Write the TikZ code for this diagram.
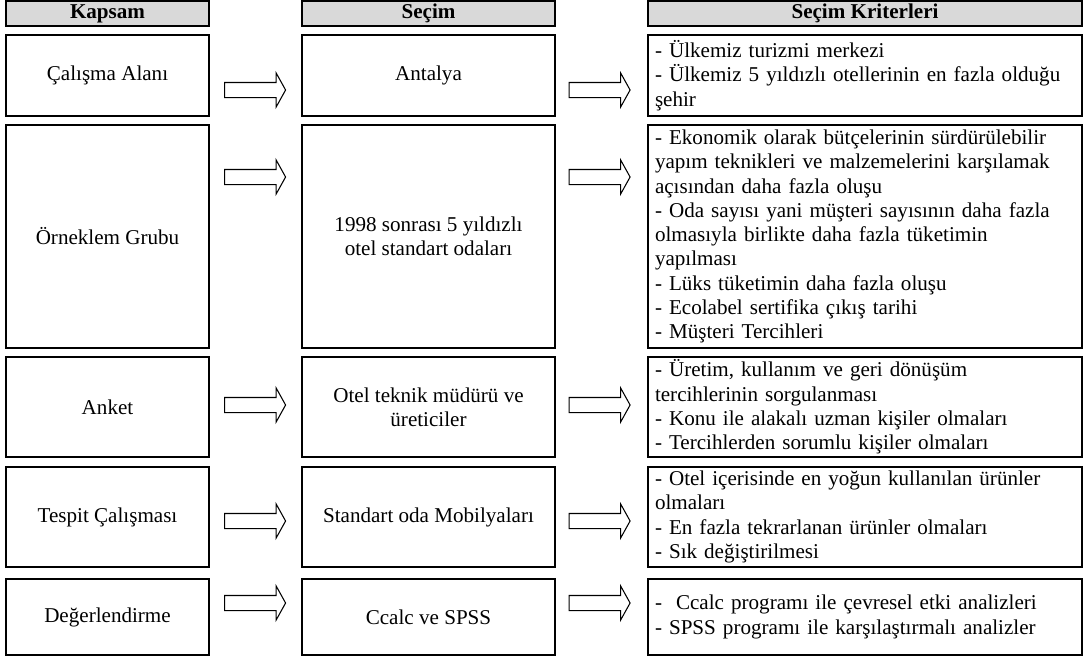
\documentclass[tikz,border=0pt]{standalone}
\usepackage{fontspec}
\setmainfont{Liberation Serif}
\usepackage{xcolor}
\definecolor{lineDark}{HTML}{000000}
\definecolor{headColor}{HTML}{D9D9D9}
\usepackage{tikz}
\usetikzlibrary{positioning,calc,shapes.arrows}
\tikzset{
  headBox/.style={
    rectangle,
    draw=lineDark,
    line width=1.1pt,
    fill=headColor,
    minimum height=0.5cm,
    inner sep=0pt,
    outer sep=0pt,
    font=\fontsize{12}{13.8}\selectfont\bfseries
 },
  scopeBox/.style={
    rectangle,
    draw=lineDark,
    line width=1.1pt,
    minimum width=4.06cm,
    inner sep=2pt,
    outer sep=0pt,
    align=center,
    font=\fontsize{12}{13.8}\selectfont
 },
  choiceBox/.style={
    rectangle,
    draw=lineDark,
    line width=1.1pt,
    minimum width=5.06cm,
    inner sep=2pt,
    outer sep=0pt,
    align=center,
    font=\fontsize{12}{13.8}\selectfont
 },
  critBox/.style={
    rectangle,
    draw=lineDark,
    line width=1.1pt,
    text width=8.4cm,
    inner xsep=0.14cm,
    inner ysep=1pt,
    outer sep=0pt,
    align=left,
    font=\fontsize{12}{13.8}\selectfont
 },
  blockArrow/.style={
    single arrow,
    draw=lineDark,
    line width=0.6pt,
    inner xsep=0pt,
    inner ysep=0.14cm,
    single arrow head extend=0.19cm,
    single arrow tip angle=122,
    minimum height=1.22cm
 }
}
\begin{document}
\begin{tikzpicture}
            \useasboundingbox (0,0) rectangle (21.78,-13.24);

            % column heads
            \node[headBox, minimum width=4.06cm] (hK) at (2.15,-0.27) {Kapsam};
            \node[headBox, minimum width=5.06cm, right=1.86cm of hK] (hS) {Seçim};
            \node[headBox, minimum width=8.68cm, right=1.86cm of hS] (hC) {Seçim Kriterleri};

            % Kapsam column
            \node[scopeBox, minimum height=1.62cm, below=0.18cm of hK] (k1) {Çalışma Alanı};
            \node[scopeBox, minimum height=4.46cm, below=0.18cm of k1] (k2) {Örneklem Grubu};
            \node[scopeBox, minimum height=2cm, below=0.18cm of k2] (k3) {Anket};
            \node[scopeBox, minimum height=2cm, below=0.2cm of k3] (k4) {Tespit Çalışması};
            \node[scopeBox, minimum height=1.52cm, below=0.24cm of k4] (k5) {Değerlendirme};

            % Seçim column
            \node[choiceBox, minimum height=1.62cm, right=1.86cm of k1] (s1) {Antalya};
            \node[choiceBox, minimum height=4.46cm, right=1.86cm of k2] (s2) {1998 sonrası 5 yıldızlı\\otel standart odaları};
            \node[choiceBox, minimum height=2cm, right=1.86cm of k3] (s3) {Otel teknik müdürü ve\\üreticiler};
            \node[choiceBox, minimum height=2cm, right=1.86cm of k4] (s4) {Standart oda Mobilyaları};
            \node[choiceBox, minimum height=1.52cm, right=1.86cm of k5] (s5) {Ccalc ve SPSS};

            % Seçim Kriterleri column
            \node[critBox, minimum height=1.62cm, right=1.86cm of s1] (c1) {- Ülkemiz turizmi merkezi\\- Ülkemiz 5 yıldızlı otellerinin en fazla olduğu\\şehir};
            \node[critBox, minimum height=4.46cm, right=1.86cm of s2] (c2) {- Ekonomik olarak bütçelerinin sürdürülebilir\\yapım teknikleri ve malzemelerini karşılamak\\açısından daha fazla oluşu\\- Oda sayısı yani müşteri sayısının daha fazla\\olmasıyla birlikte daha fazla tüketimin\\yapılması\\- Lüks tüketimin daha fazla oluşu\\- Ecolabel sertifika çıkış tarihi\\- Müşteri Tercihleri};
            \node[critBox, minimum height=2cm, right=1.86cm of s3] (c3) {- Üretim, kullanım ve geri dönüşüm\\tercihlerinin sorgulanması\\- Konu ile alakalı uzman kişiler olmaları\\- Tercihlerden sorumlu kişiler olmaları};
            \node[critBox, minimum height=2cm, right=1.86cm of s4] (c4) {- Otel içerisinde en yoğun kullanılan ürünler\\olmaları\\- En fazla tekrarlanan ürünler olmaları\\- Sık değiştirilmesi};
            \node[critBox, minimum height=1.52cm, right=1.86cm of s5] (c5) {-\ \ Ccalc programı ile çevresel etki analizleri\\- SPSS programı ile karşılaştırmalı analizler};

            % block arrows between the columns
            \foreach \r/\dy in {1/-0.29, 2/1.19, 3/0.04, 4/-0.08, 5/0.28} {
                \node[blockArrow] (ks\r) at ($(k\r.east)!0.5!(s\r.west)+(-0.05,\dy)$) {};
                \node[blockArrow] (sc\r) at ($(s\r.east)!0.5!(c\r.west)+(-0.08,\dy)$) {};
            }

        \end{tikzpicture}
\end{document}
